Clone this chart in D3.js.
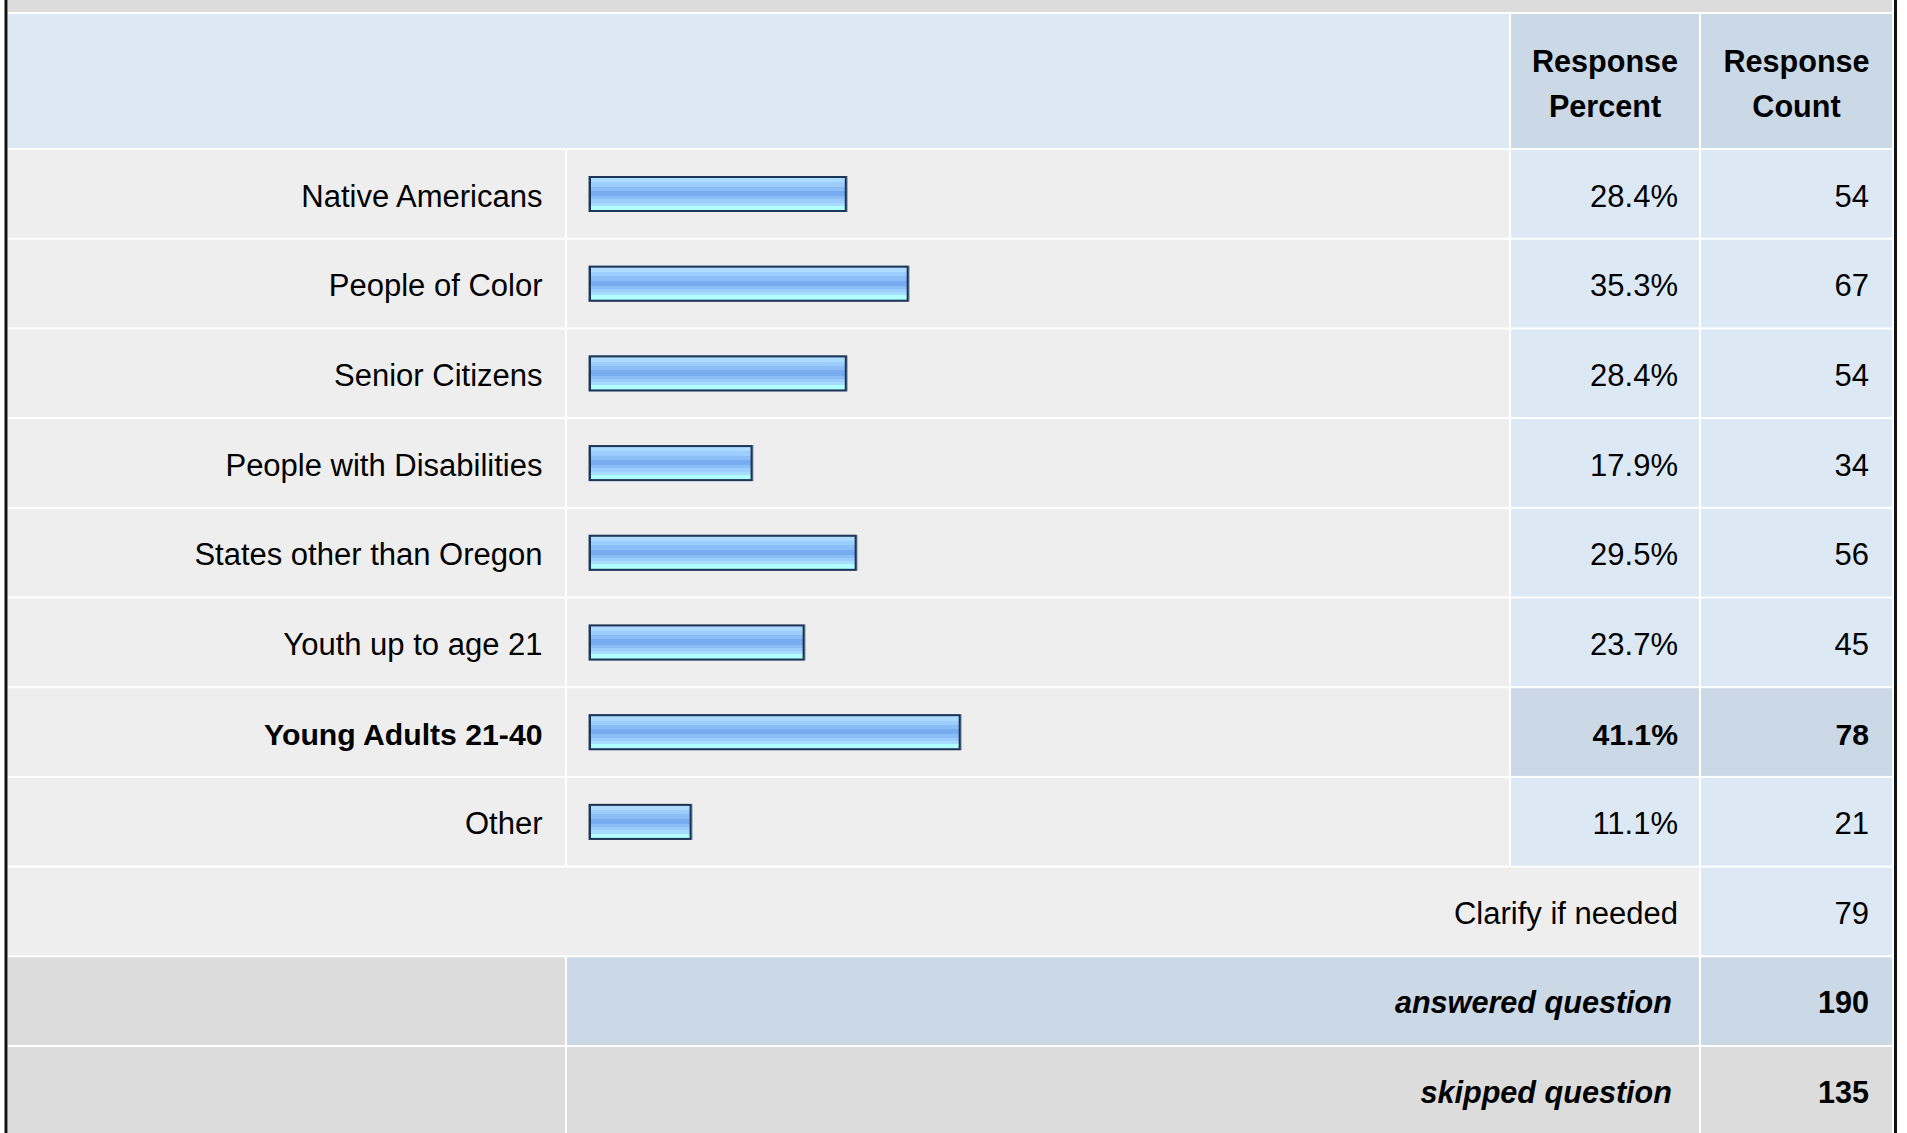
<!DOCTYPE html>
<html>
<head>
<meta charset="utf-8">
<script src="https://cdn.jsdelivr.net/npm/d3@7"></script>
<style>
  html, body { margin: 0; padding: 0; background: #ffffff; }
  svg { display: block; }
  text { font-family: "Liberation Sans", Arial, Helvetica, sans-serif; fill: #000; }
</style>
</head>
<body>
<svg id="chart" width="1907" height="1133"></svg>
<script>
// ---- data ----
const categories = [
  "Native Americans",
  "People of Color",
  "Senior Citizens",
  "People with Disabilities",
  "States other than Oregon",
  "Youth up to age 21",
  "Young Adults 21-40",
  "Other"
];
const percents = [28.4, 35.3, 28.4, 17.9, 29.5, 23.7, 41.1, 11.1];
const counts = [54, 67, 54, 34, 56, 45, 78, 21];
const headerLines = [["Response", "Percent"], ["Response", "Count"]];
const otherLabel = "Clarify if needed";
const otherCount = 79;
const summaryLabels = ["answered question", "skipped question"];
const summaryCounts = [190, 135];

// ---- layout ----
const W = 1907, H = 1133;
const svg = d3.select("#chart");
const defs = svg.append("defs");

const colLabel = [8, 565], colBar = [567, 1509], colPct = [1511, 1699], colCnt = [1701, 1892];
const C = {
  strip: "#dcdcdc", headLight: "#dde8f5", headDark: "#cbd8e6",
  rowGray: "#eeeeee", rowBlue: "#dde8f5", footGray: "#dcdcdc", footBlue: "#cbd8e6"
};

const nRows = categories.length + 3;
const y = d3.scaleBand()
  .domain(d3.range(nRows))
  .range([150, 150 + nRows * 89.7 - 2])
  .paddingInner(2 / 89.7)
  .paddingOuter(0);

const x = d3.scaleLinear().domain([0, 100]).range([0, 897]);
const barX0 = 588, barH = 36;

const maxIdx = d3.maxIndex(percents);

// gradient for bars
const grad = defs.append("linearGradient").attr("id", "barGrad")
  .attr("x1", 0).attr("y1", 0).attr("x2", 0).attr("y2", 1);
const stripes = [
  ["#d2e9ff", 1], ["#addaff", 4], ["#9ccdff", 4], ["#8bbdf6", 4],
  ["#78acf0", 5], ["#8bbdf6", 3], ["#9ccdff", 3], ["#a8dcff", 3], ["#b2ffff", 5]
];
const tot = d3.sum(stripes, s => s[1]);
let acc = 0;
stripes.forEach(([c, h]) => {
  grad.append("stop").attr("offset", acc / tot).attr("stop-color", c);
  acc += h;
  grad.append("stop").attr("offset", acc / tot).attr("stop-color", c);
});

function cell(x0, x1, y0, h, fill) {
  svg.append("rect").attr("x", x0).attr("y", y0).attr("width", x1 - x0).attr("height", h).attr("fill", fill);
}

// top strip
cell(8, 1892, 0, 12, C.strip);
// header
cell(colLabel[0], colBar[1], 14, 134, C.headLight);
cell(colPct[0], colPct[1], 14, 134, C.headDark);
cell(colCnt[0], colCnt[1], 14, 134, C.headDark);

const FS = 31, FSB = 30.2;
[colPct, colCnt].forEach((col, i) => {
  const cx = (col[0] + col[1]) / 2;
  headerLines[i].forEach((ln, j) => {
    svg.append("text").attr("x", cx).attr("y", j === 0 ? 72 : 117)
      .attr("text-anchor", "middle").attr("font-size", 30.6).attr("font-weight", "bold").text(ln);
  });
});

// data rows
categories.forEach((cat, i) => {
  const y0 = y(i), h = y.bandwidth(), cy = y0 + 44;
  const hi = i === maxIdx;
  cell(colLabel[0], colLabel[1], y0, h, C.rowGray);
  cell(colBar[0], colBar[1], y0, h, C.rowGray);
  cell(colPct[0], colPct[1], y0, h, hi ? C.headDark : C.rowBlue);
  cell(colCnt[0], colCnt[1], y0, h, hi ? C.headDark : C.rowBlue);

  const bw = x(percents[i]) + 5;
  // outer soft outline
  svg.append("rect").attr("x", barX0).attr("y", cy - barH / 2).attr("width", bw).attr("height", barH)
    .attr("fill", "#8e9cb0");
  // bar with dark border
  svg.append("rect").attr("x", barX0 + 2).attr("y", cy - barH / 2 + 1).attr("width", bw - 4).attr("height", barH - 2)
    .attr("fill", "url(#barGrad)").attr("stroke", "#1d3557").attr("stroke-width", 2);

  const fw = hi ? "bold" : "normal";
  const fs = hi ? FSB : FS;
  svg.append("text").attr("x", 542.5).attr("y", cy + 12.5).attr("text-anchor", "end")
    .attr("font-size", fs).attr("font-weight", fw).text(cat);
  svg.append("text").attr("x", 1678).attr("y", cy + 12.5).attr("text-anchor", "end")
    .attr("font-size", fs).attr("font-weight", fw).text(percents[i].toFixed(1) + "%");
  svg.append("text").attr("x", 1869).attr("y", cy + 12.5).attr("text-anchor", "end")
    .attr("font-size", fs).attr("font-weight", fw).text(counts[i]);
});

// other / clarify row
{
  const i = categories.length, y0 = y(i), h = y.bandwidth(), cy = y0 + 44;
  cell(colLabel[0], colPct[1], y0, h, C.rowGray);
  cell(colCnt[0], colCnt[1], y0, h, C.rowBlue);
  svg.append("text").attr("x", 1678).attr("y", cy + 12.5).attr("text-anchor", "end")
    .attr("font-size", FS).text(otherLabel);
  svg.append("text").attr("x", 1869).attr("y", cy + 12.5).attr("text-anchor", "end")
    .attr("font-size", FS).text(otherCount);
}

// summary rows
summaryLabels.forEach((lab, k) => {
  const i = categories.length + 1 + k, y0 = y(i), h = y.bandwidth() + (k === 1 ? 10 : 0), cy = y0 + 44;
  const fill = k === 0 ? C.footBlue : C.footGray;
  cell(colLabel[0], colLabel[1], y0, h, C.footGray);
  cell(colBar[0], colPct[1], y0, h, fill);
  cell(colCnt[0], colCnt[1], y0, h, fill);
  svg.append("text").attr("x", 1672).attr("y", cy + 12).attr("text-anchor", "end")
    .attr("font-size", 30.6).attr("font-weight", "bold").attr("font-style", "italic").text(lab);
  svg.append("text").attr("x", 1869).attr("y", cy + 12).attr("text-anchor", "end")
    .attr("font-size", 30.6).attr("font-weight", "bold").text(summaryCounts[k]);
});

// outer borders
svg.append("rect").attr("x", 4.5).attr("y", 0).attr("width", 3).attr("height", H).attr("fill", "#111");
svg.append("rect").attr("x", 1894).attr("y", 0).attr("width", 3).attr("height", H).attr("fill", "#111");
</script>
</body>
</html>
